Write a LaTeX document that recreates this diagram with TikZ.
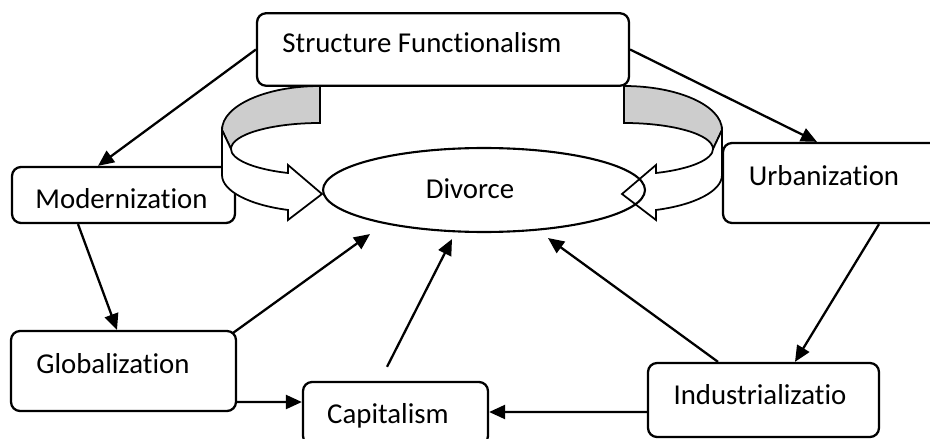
\documentclass[tikz,border=0pt]{standalone}
\usepackage{fontspec}
\setmainfont[Ligatures=NoCommon]{Carlito}
\usetikzlibrary{positioning, shapes, arrows.meta, calc}

\begin{document}
\begin{tikzpicture}[x=0.02cm, y=-0.02cm, >={Triangle[length=0.32cm, width=0.28cm]}, font=\fontsize{16.4}{20}\selectfont,
    box/.style={draw, rounded corners=0.18cm, line width=1.3pt, inner sep=0pt},
    arr/.style={->, line width=1.3pt},
    lbl/.style={anchor=base, inner sep=0pt}]
    \definecolor{ribbon}{RGB}{205, 205, 205} % Grey back of the bands

    \useasboundingbox (0,0) rectangle (930,439);
    \clip (0,0) rectangle (930,439);

    % Boxes
    \node[box, minimum width=7.44cm, minimum height=1.45cm] (sf) at (443, 49.5) {};
    \node[box, minimum width=4.46cm, minimum height=1.12cm] (mod) at (123.5, 195) {};
    \node[box, minimum width=4.44cm, minimum height=1.6cm] (urb) at (834, 183) {};
    \node[box, minimum width=4.5cm, minimum height=1.6cm] (glob) at (123.5, 371) {};
    \node[box, minimum width=3.7cm, minimum height=1.26cm] (cap) at (395.5, 413.5) {};
    \node[box, minimum width=4.62cm, minimum height=1.48cm] (ind) at (763.5, 400) {};

    % Curved arrows (left one, then its mirror)
    \foreach \s/\m in {0/1, 944/-1} {
        \begin{scope}[shift={(\s,0)}, xscale=\m, line width=1pt]
            \filldraw[fill=ribbon] (320,86) arc[start angle=270, end angle=180, x radius=98, y radius=44]
                -- (231,149) arc[start angle=180, end angle=270, x radius=89, y radius=26] -- cycle;
            \filldraw[fill=white] (222,130) -- (222,175) arc[start angle=180, end angle=109, x radius=98, y radius=37]
                -- (288,220) -- (322,194) -- (288,165) -- (288,173)
                arc[start angle=111, end angle=180, x radius=89, y radius=26] -- cycle;
        \end{scope}
    }

    % Divorce
    \node[draw, ellipse, line width=1.2pt, minimum width=6.44cm, minimum height=1.68cm, inner sep=0pt] (div) at (484, 190) {};

    % Labels
    \node[lbl] (sf-t) at (422, 53) {Structure Functionalism};
    \node[lbl] (mod-t) at (121.5, 208) {Modernization};
    \node[lbl] (urb-t) at (824, 186) {Urbanization};
    \node[lbl] (glob-t) at (113, 373) {Globalization};
    \node[lbl] (cap-t) at (388, 423) {Capitalism};
    \node[lbl] (ind-t) at (760, 404) {Industrializatio};
    \node[lbl] (div-t) at (470, 198) {Divorce};

    % Arrows
    \draw[arr] (sf.west) -- ([xshift=-0.51cm]mod.north);
    \draw[arr] (sf.east) -- ([xshift=-0.34cm]urb.north);
    \draw[arr] ([xshift=-0.91cm]mod.south) -- ([xshift=-0.13cm]glob.north);
    \draw[arr] ([xshift=0.9cm]urb.south) -- ([xshift=0.63cm]ind.north);
    \draw[arr] ([shift={(-0.08cm,-0.06cm)}]glob.north east) -- ([shift={(-2.28cm,-0.02cm)}]div.south);
    \draw[arr] ([yshift=-0.62cm]glob.east) -- ([yshift=0.23cm]cap.west);
    \draw[arr] ([yshift=-0.24cm]ind.west) -- ([yshift=0.03cm]cap.east);
    \draw[arr] ([shift={(-0.17cm,0.28cm)}]cap.north) -- ([shift={(-0.64cm,-0.12cm)}]div.south);
    \draw[arr] ([xshift=-0.91cm]ind.north) -- ([shift={(1.28cm,-0.1cm)}]div.south);
\end{tikzpicture}
\end{document}
